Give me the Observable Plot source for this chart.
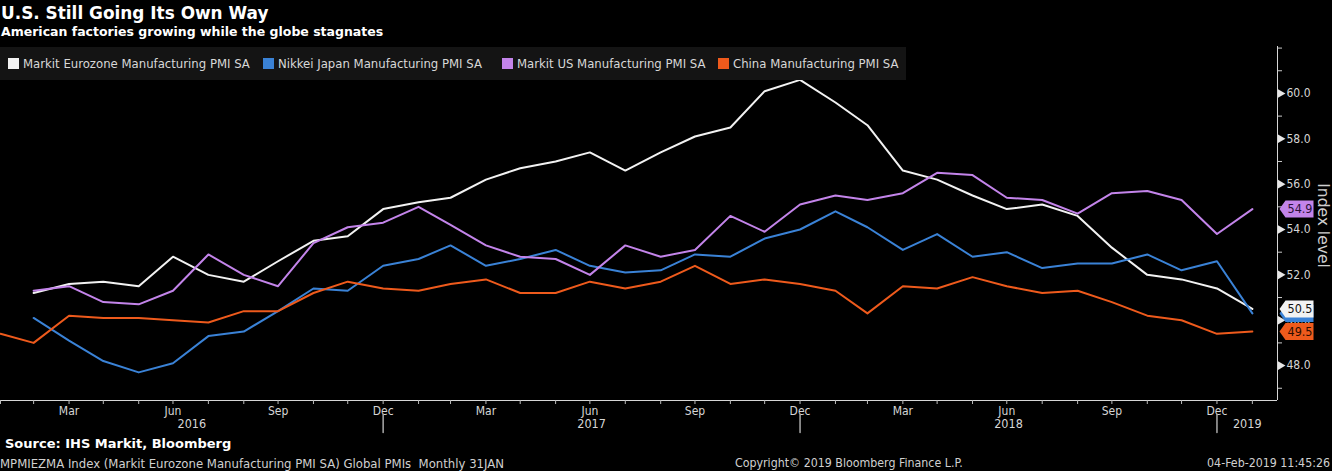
<!DOCTYPE html>
<html><head><meta charset="utf-8">
<script src="https://cdn.jsdelivr.net/npm/d3@7"></script>
<script src="https://cdn.jsdelivr.net/npm/@observablehq/plot@0.6"></script>
<style>
html,body{margin:0;padding:0;background:#000;}
#wrap{position:relative;width:1332px;height:471px;overflow:hidden;background:#000;color:#fff;}
#title{position:absolute;left:1px;top:3px;font:bold 16.9px/20px "DejaVu Sans",sans-serif;color:#fff;white-space:nowrap;}
#subtitle{position:absolute;left:1px;top:24px;font:bold 12.5px/15px "DejaVu Sans",sans-serif;color:#fff;white-space:nowrap;}
#legend{position:absolute;left:0;top:47px;width:906px;height:33px;background:#141414;z-index:2;}
.item{position:absolute;top:9px;display:flex;align-items:center;font:13px/15px "DejaVu Sans Condensed","DejaVu Sans",sans-serif;font-stretch:condensed;color:#d8d8d8;white-space:nowrap;}
.sw{width:11px;height:11px;margin-right:4px;}
#chart{position:absolute;left:0;top:40px;z-index:1;}
.foot{position:absolute;white-space:nowrap;color:#d0d0d0;font:13px/15px "DejaVu Sans Condensed","DejaVu Sans",sans-serif;font-stretch:condensed;}
#source{left:5px;top:436px;font:bold 13px/15px "DejaVu Sans",sans-serif;color:#fff;}
</style></head>
<body><div id="wrap">
<div id="title">U.S. Still Going Its Own Way</div>
<div id="subtitle">American factories growing while the globe stagnates</div>
<div id="legend"></div>
<div id="chart"></div>
<div id="source" class="foot">Source: IHS Markit, Bloomberg</div>
<div class="foot" style="left:0;top:456px;">MPMIEZMA Index (Markit Eurozone Manufacturing PMI SA) Global PMIs&nbsp; Monthly 31JAN</div>
<div class="foot" style="left:735px;top:456px;font-size:12.3px;">Copyright© 2019 Bloomberg Finance L.P.</div>
<div class="foot" style="right:2px;top:456px;font-size:12.3px;">04-Feb-2019 11:45:26</div>
</div>
<script>
// ---- data ----
const seriesNames = ["Markit Eurozone Manufacturing PMI SA","Nikkei Japan Manufacturing PMI SA","Markit US Manufacturing PMI SA","China Manufacturing PMI SA"];
const seriesColors = ["#f2f2f2","#3a82d6","#c384ea","#ee5a1c"];
const labelTextColors = ["#111","#111","#2a1038","#2a0c00"];
// monthly values, first month given per series (month-end dated)
const euroStart = [2016, 2];
const euroValues = [51.2,51.6,51.7,51.5,52.8,52.0,51.7,52.6,53.5,53.7,54.9,
  55.2,55.4,56.2,56.7,57.0,57.4,56.6,57.4,58.1,58.5,60.1,60.6,
  59.6,58.6,56.6,56.2,55.5,54.9,55.1,54.6,53.2,52.0,51.8,51.4,
  50.5];
const japanStart = [2016, 2];
const japanValues = [50.1,49.1,48.2,47.7,48.1,49.3,49.5,50.4,51.4,51.3,52.4,
  52.7,53.3,52.4,52.7,53.1,52.4,52.1,52.2,52.9,52.8,53.6,54.0,
  54.8,54.1,53.1,53.8,52.8,53.0,52.3,52.5,52.5,52.9,52.2,52.6,
  50.3];
const usStart = [2016, 2];
const usValues = [51.3,51.5,50.8,50.7,51.3,52.9,52.0,51.5,53.4,54.1,54.3,
  55.0,54.2,53.3,52.8,52.7,52.0,53.3,52.8,53.1,54.6,53.9,55.1,
  55.5,55.3,55.6,56.5,56.4,55.4,55.3,54.7,55.6,55.7,55.3,53.8,
  54.9];
const chinaStart = [2016, 1];
const chinaValues = [49.4,49.0,50.2,50.1,50.1,50.0,49.9,50.4,50.4,51.2,51.7,51.4,
  51.3,51.6,51.8,51.2,51.2,51.7,51.4,51.7,52.4,51.6,51.8,51.6,
  51.3,50.3,51.5,51.4,51.9,51.5,51.2,51.3,50.8,50.2,50.0,49.4,
  49.5];
const yMajorTicks = [48,50,52,54,56,58,60];
const yMinorTicks = [47,49,51,53,55,57,59,61,62];
const quarterMonths = ["Mar","Jun","Sep","Dec"];
const yearLabels = ["2016","2017","2018","2019"];
const xDomain = [new Date(Date.UTC(2016,0,31)), new Date(Date.UTC(2019,1,22))];
const yDomain = [46.46, 62.07];

// ---- build ----
const monthEnd = (y, m) => new Date(Date.UTC(y, m, 0)); // m is 1-based
const build = (name, [y, m], vals) => vals.map((v, i) => ({series: name, date: monthEnd(y, m + i), value: v}));
const all = [
  ...build(seriesNames[0], euroStart, euroValues),
  ...build(seriesNames[1], japanStart, japanValues),
  ...build(seriesNames[2], usStart, usValues),
  ...build(seriesNames[3], chinaStart, chinaValues)
];
const lastOf = name => all.filter(d => d.series === name).at(-1);
// Japan's tag sits underneath the Eurozone tag (its number is hidden, as in the original)
const labelOrder = [seriesNames[1], seriesNames[0], seriesNames[2], seriesNames[3]];
const hiddenLabelText = [seriesNames[1]];
const monthTicks = d3.utcMonth.range(new Date(Date.UTC(2016,1,1)), new Date(Date.UTC(2019,2,1))).map(d => new Date(+d - 86400000));
const yearEnds = [2016, 2017, 2018].map(y => new Date(Date.UTC(y, 11, 31)));
const yearMids = yearLabels.map(t => {
  const y = +t;
  const a = Math.max(+new Date(Date.UTC(y - 1, 11, 31)), +xDomain[0]);
  const b = Math.min(+new Date(Date.UTC(y, 11, 31)), +xDomain[1]);
  return {label: t, date: new Date((a + b) / 2)};
});
const tag = {draw(ctx) { ctx.moveTo(2,0); ctx.lineTo(8,-8.5); ctx.lineTo(36,-8.5); ctx.lineTo(36,8.5); ctx.lineTo(8,8.5); ctx.closePath(); }};
const bar = {draw(ctx, l) { ctx.moveTo(0,0); ctx.lineTo(0,-l); }};

// legend
const legendLeft = [8, 263, 502, 718];
const leg = document.getElementById("legend");
seriesNames.forEach((n, i) => {
  const it = document.createElement("div"); it.className = "item"; it.style.left = legendLeft[i] + "px";
  it.innerHTML = `<span class="sw" style="background:${seriesColors[i]}"></span><span>${n}</span>`;
  leg.appendChild(it);
});

const axisColor = "#d6d6d6";
const labelMarks = labelOrder.flatMap(name => {
  const p = [lastOf(name)];
  return [
    Plot.dot(p, {y: "value", frameAnchor: "right", symbol: tag, fill: "series", r: 5}),
    hiddenLabelText.includes(name) ? null :
    Plot.text(p, {y: "value", frameAnchor: "right", textAnchor: "middle", dx: 22.5, text: d => d.value.toFixed(1), fontSize: 12.5,
      fill: labelTextColors[seriesNames.indexOf(name)]})
  ];
}).filter(Boolean);
const chart = Plot.plot({
  width: 1332, height: 394,
  marginLeft: 0, marginRight: 55, marginTop: 6, marginBottom: 34,
  style: {background: "transparent", color: axisColor, fontFamily: "'DejaVu Sans Condensed','DejaVu Sans',sans-serif", fontSize: "12px", overflow: "visible"},
  x: {type: "utc", domain: xDomain},
  y: {domain: yDomain},
  color: {domain: seriesNames, range: seriesColors},
  marks: [
    Plot.ruleY([yDomain[0]], {stroke: axisColor}),
    Plot.ruleX([xDomain[1]], {stroke: axisColor}),
    Plot.axisX({ticks: monthTicks, tickSize: 4, tickPadding: 2, stroke: "#bbb", fill: axisColor, fontSize: 12,
      tickFormat: d => { const m = d3.utcFormat("%b")(d); return quarterMonths.includes(m) ? m : ""; }, label: null}),
    Plot.vector(yearEnds, {x: d => d, frameAnchor: "bottom", length: 18, rotate: 180, anchor: "start", shape: bar, stroke: "#aaa", dy: 14}),
    Plot.text(yearMids, {x: "date", text: "label", frameAnchor: "bottom", dy: 27, fill: axisColor, fontSize: 12.5}),
    Plot.axisY({anchor: "right", ticks: yMinorTicks, tickSize: 4, stroke: "#ccc", tickFormat: () => "", label: null}),
    Plot.axisY({anchor: "right", ticks: yMajorTicks, tickSize: 0, tickPadding: 9, fill: axisColor, fontSize: 12, tickFormat: d => d.toFixed(1), label: null}),
    Plot.dot(yMajorTicks, {y: d => d, frameAnchor: "right", symbol: "triangle", rotate: 90, r: 3.2, fill: "#e6e6e6", dx: 3}),
    Plot.text(["Index level"], {frameAnchor: "right", textAnchor: "middle", text: d => d, rotate: 90, dx: 45, dy: 2, fontSize: 15.5, fontFamily: "'DejaVu Sans',sans-serif", fill: "#cfcfcf"}),
    Plot.line(all, {x: "date", y: "value", z: "series", stroke: "series", strokeWidth: 2}),
    ...labelMarks
  ]
});
document.getElementById("chart").appendChild(chart);
</script>
</body></html>
